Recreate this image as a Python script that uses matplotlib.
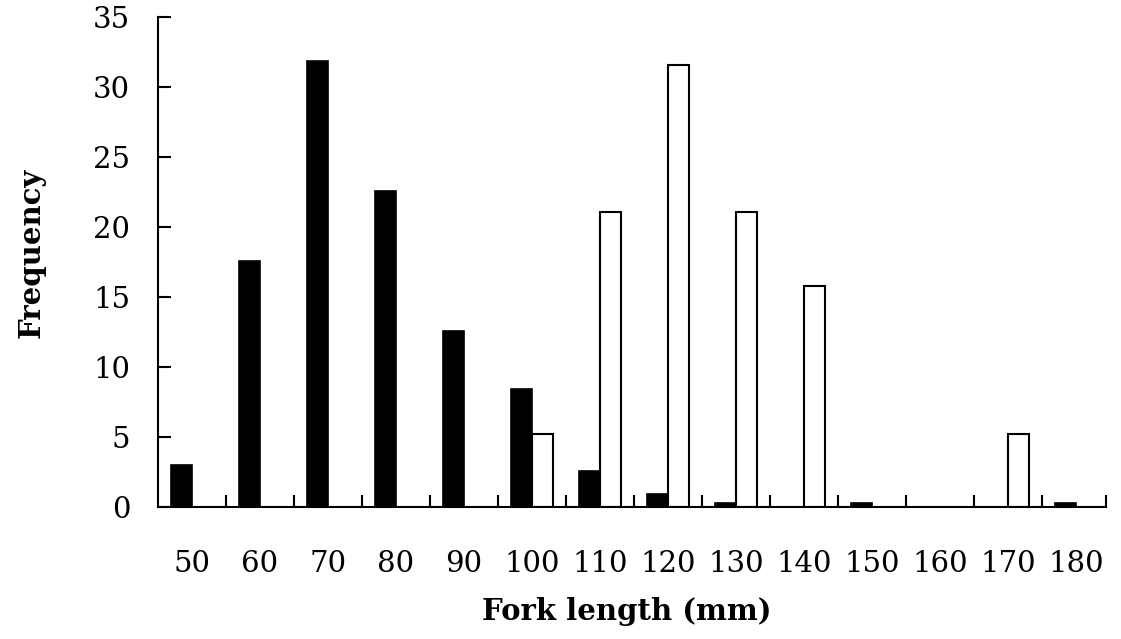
import matplotlib.pyplot as plt
import numpy as np

# fork length classes (mm)
lengths = [50, 60, 70, 80, 90, 100, 110, 120, 130, 140, 150, 160, 170, 180]
# black bars
freq_black = [3.0, 17.6, 31.9, 22.6, 12.6, 8.4, 2.6, 0.9, 0.3, 0.0, 0.3, 0.0, 0.0, 0.3]
# white bars
freq_white = [0.0, 0.0, 0.0, 0.0, 0.0, 5.2, 21.1, 31.6, 21.1, 15.8, 0.0, 0.0, 5.2, 0.0]
y_ticks = [0, 5, 10, 15, 20, 25, 30, 35]

plt.rcParams['font.family'] = ['DejaVu Serif']

fig = plt.figure(figsize=(11.21, 6.39), dpi=100)
ax = fig.add_axes([0.141, 0.2066, 0.846, 0.7664])

x = np.arange(len(lengths))
w = 0.31
ax.bar(x - w / 2, freq_black, width=w, color='black', edgecolor='black', linewidth=1.2)
white_x = [xi + w / 2 for xi, v in zip(x, freq_white) if v > 0]
white_v = [v for v in freq_white if v > 0]
ax.bar(white_x, white_v, width=w, color='white', edgecolor='black', linewidth=1.5)

ax.set_xlim(-0.5, 13.45)
ax.set_ylim(0, 35)

# major ticks at class boundaries (marks only), labels on minor ticks
ax.set_xticks(list(x[:-1] + 0.5) + [13.45])
ax.set_xticklabels([])
ax.set_xticks(x, minor=True)
ax.set_xticklabels([str(v) for v in lengths], minor=True)
ax.tick_params(axis='x', which='major', direction='in', length=9, width=1.5)
ax.tick_params(axis='x', which='minor', length=0, pad=31, labelsize=21)

ax.set_yticks(y_ticks)
ax.tick_params(axis='y', direction='in', length=9, width=1.5, pad=20, labelsize=21)

for s in ['top', 'right']:
    ax.spines[s].set_visible(False)
for s in ['left', 'bottom']:
    ax.spines[s].set_linewidth(1.5)

ax.set_xlabel('Fork length (mm)', fontsize=21, fontweight='bold')
ax.set_ylabel('Frequency', fontsize=21, fontweight='bold')
ax.xaxis.set_label_coords(0.494, -0.183)
ax.yaxis.set_label_coords(-0.119, 0.518)

fig.savefig('out.png', dpi=100)
